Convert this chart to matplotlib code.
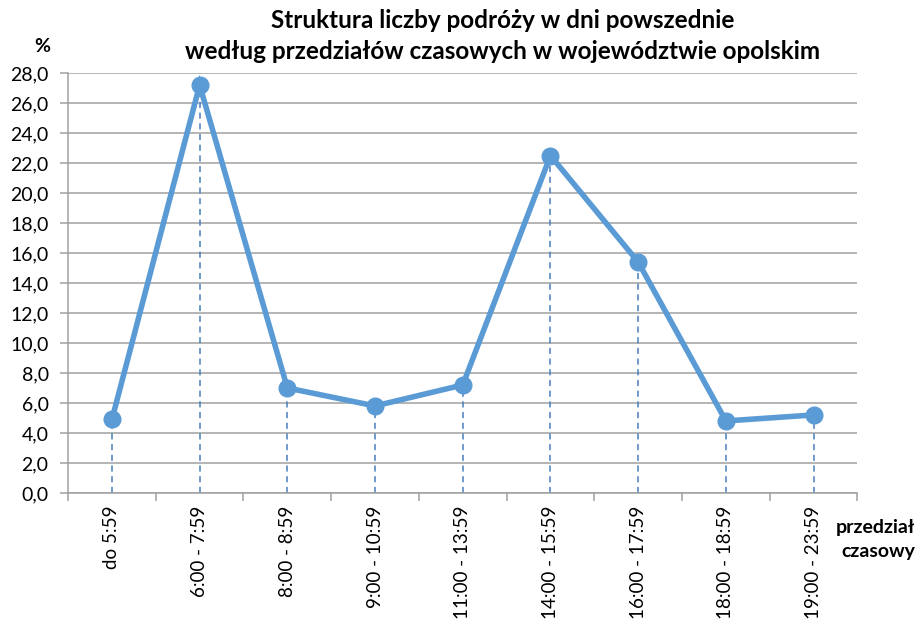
import numpy as np
import matplotlib
matplotlib.use("Agg")
import matplotlib.pyplot as plt
from matplotlib.ticker import FixedLocator, FuncFormatter

plt.rcParams['font.family'] = ['Lato', 'DejaVu Sans']

categories = ["do 5:59", "6:00 - 7:59", "8:00 - 8:59", "9:00 - 10:59", "11:00 - 13:59",
              "14:00 - 15:59", "16:00 - 17:59", "18:00 - 18:59", "19:00 - 23:59"]
shares = [4.9, 27.2, 7.0, 5.8, 7.2, 22.5, 15.4, 4.8, 5.2]
y_ticks = np.arange(0, 28.1, 2.0)

fig = plt.figure(figsize=(9.2, 6.2), dpi=100)
ax = fig.add_axes([0.074, 0.205, 0.858, 0.677])

x = np.arange(len(categories))

# drop lines from each point to the axis
ax.vlines(x, 0, shares, colors="#4a7ebb", linestyles=(0, (4, 3)), linewidth=1.1, zorder=2)
ax.plot(x, shares, color="#5b9bd5", linewidth=4.0, marker="o", markersize=12,
        solid_joinstyle="miter", zorder=3)

ax.set_xlim(-0.5, len(categories) - 0.5)
ax.set_ylim(0, 28)
ax.set_yticks(y_ticks)
ax.yaxis.set_major_formatter(FuncFormatter(lambda v, p: f"{v:.1f}".replace(".", ",")))
ax.yaxis.grid(True, color="#a0a0a0", linewidth=1.1)
ax.set_axisbelow(True)

ax.set_xticks(x)
ax.set_xticklabels(categories, rotation=90, fontsize=13.5)
ax.xaxis.set_major_locator(FixedLocator(x))
ax.set_xticks(np.arange(-0.5, len(categories), 1.0), minor=True)
ax.tick_params(axis="x", which="major", length=0, pad=9)
ax.tick_params(axis="x", which="minor", length=6, color="#a0a0a0", width=1.1)
ax.tick_params(axis="y", length=6, color="#a0a0a0", width=1.1, labelsize=14, pad=8)

for s in ["top", "right"]:
    ax.spines[s].set_visible(False)
for s in ["left", "bottom"]:
    ax.spines[s].set_color("#a0a0a0")
    ax.spines[s].set_linewidth(1.1)

fig.text(0.546, 0.942, "Struktura liczby podróży w dni powszednie\nwedług przedziałów czasowych w województwie opolskim",
         ha="center", va="center", fontsize=17.5, fontweight="bold", linespacing=1.45)
fig.text(0.046, 0.925, "%", ha="center", va="center", fontsize=14, fontweight="bold")
fig.text(0.995, 0.13, "przedział\nczasowy", ha="right", va="center", fontsize=14,
         fontweight="bold", linespacing=1.5)

fig.savefig("out.png", dpi=100)
